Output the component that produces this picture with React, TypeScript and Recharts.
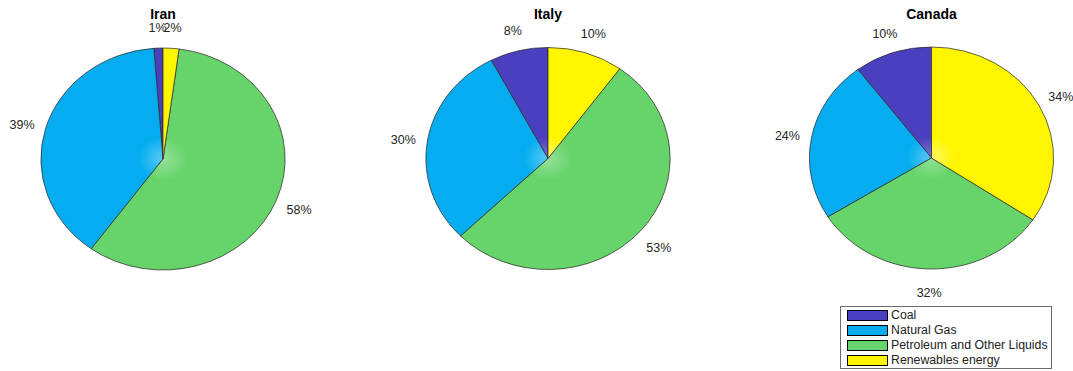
import { Legend, Pie, PieChart } from 'recharts';

const sources = ['Coal', 'Natural Gas', 'Petroleum and Other Liquids', 'Renewables energy'];
const sourceColors = ['#4a3fbe', '#05adf0', '#66d46a', '#fff500'];
const sourceTints = ['#7a72d2', '#5cc9f5', '#94e197', '#fff96a'];

const countries = ['Iran', 'Italy', 'Canada'];
const iranShares = [1.2, 38.8, 57.9, 2.1];
const italyShares = [7.7, 29.6, 52.7, 10.0];
const canadaShares = [10.3, 23.6, 31.7, 34.4];
const countryShares = [iranShares, italyShares, canadaShares];

const W = 1073;
const H = 371;
const RADIUS = 111;
const STRETCH = 1.1;
const centers = [
  { x: 163, y: 159 },
  { x: 548, y: 158.5 },
  { x: 931.5, y: 158 }
];

const FONT = '"Liberation Sans", Arial, Helvetica, sans-serif';
const RAD = Math.PI / 180;

function makeLabel(cx: number, cy: number) {
  return (props: any) => {
    const { midAngle, percent, index } = props;
    const r = RADIUS * 1.2;
    const x = cx + r * STRETCH * Math.cos(midAngle * RAD);
    const y = cy - r * Math.sin(midAngle * RAD) + 2;
    return (
      <text
        key={`lbl-${index}`}
        x={x}
        y={y}
        textAnchor="middle"
        dominantBaseline="central"
        fontFamily={FONT}
        fontSize={12.5}
        fill="#262626"
      >
        {`${Math.round(percent * 100)}%`}
      </text>
    );
  };
}

function LegendBox() {
  return (
    <div
      style={{
        width: 212,
        height: 63,
        border: '1px solid #6b6b6b',
        background: '#fff',
        fontFamily: FONT,
        fontSize: 12.3,
        color: '#222',
        paddingTop: 1,
        boxSizing: 'border-box'
      }}
    >
      {sources.map((s, i) => (
        <div key={s} style={{ display: 'flex', alignItems: 'center', height: 15, lineHeight: '15px' }}>
          <span
            style={{
              display: 'inline-block',
              width: 39,
              height: 9,
              marginLeft: 6,
              marginRight: 3,
              background: sourceColors[i],
              border: '1px solid #000'
            }}
          />
          <span>{s}</span>
        </div>
      ))}
    </div>
  );
}

export default function App() {
  const css = `
    body { margin: 0; }
    ${countries
      .map(
        (c, i) =>
          `.pie-${c} path.recharts-sector { transform: scaleX(${STRETCH}); transform-origin: ${centers[i].x}px ${centers[i].y}px; }`
      )
      .join('\n')}
  `;

  return (
    <div style={{ position: 'relative', width: W, height: H, background: '#fff' }}>
      <style>{css}</style>
      <PieChart width={W} height={H} margin={{ top: 0, right: 0, bottom: 0, left: 0 }}>
        <defs>
          {countries.map((c, ci) =>
            sourceColors.map((col, si) => (
              <radialGradient
                key={`${c}-${si}`}
                id={`grad-${c}-${si}`}
                gradientUnits="userSpaceOnUse"
                cx={centers[ci].x}
                cy={centers[ci].y}
                r={22}
              >
                <stop offset="0%" stopColor={sourceTints[si]} />
                <stop offset="100%" stopColor={col} />
              </radialGradient>
            ))
          )}
        </defs>
        {countries.map((c, ci) => {
          const data = sources.map((s, si) => ({
            name: s,
            value: countryShares[ci][si],
            fill: `url(#grad-${c}-${si})`
          }));
          return (
            <Pie
              key={c}
              className={`pie-${c}`}
              data={data}
              dataKey="value"
              nameKey="name"
              cx={centers[ci].x}
              cy={centers[ci].y}
              innerRadius={0}
              outerRadius={RADIUS}
              startAngle={90}
              endAngle={450}
              stroke="#2a2a2a"
              strokeWidth={0.7}
              labelLine={false}
              label={makeLabel(centers[ci].x, centers[ci].y)}
              isAnimationActive={false}
            />
          );
        })}
        <Legend
          content={() => <LegendBox />}
          wrapperStyle={{ position: 'absolute', left: 840, top: 306, width: 212, height: 63 }}
        />
      </PieChart>
      {countries.map((c, ci) => (
        <div
          key={c}
          style={{
            position: 'absolute',
            left: centers[ci].x - 60,
            width: 120,
            top: 6,
            textAlign: 'center',
            fontFamily: FONT,
            fontWeight: 'bold',
            fontSize: 14,
            lineHeight: '16px',
            color: '#000'
          }}
        >
          {c}
        </div>
      ))}
    </div>
  );
}
